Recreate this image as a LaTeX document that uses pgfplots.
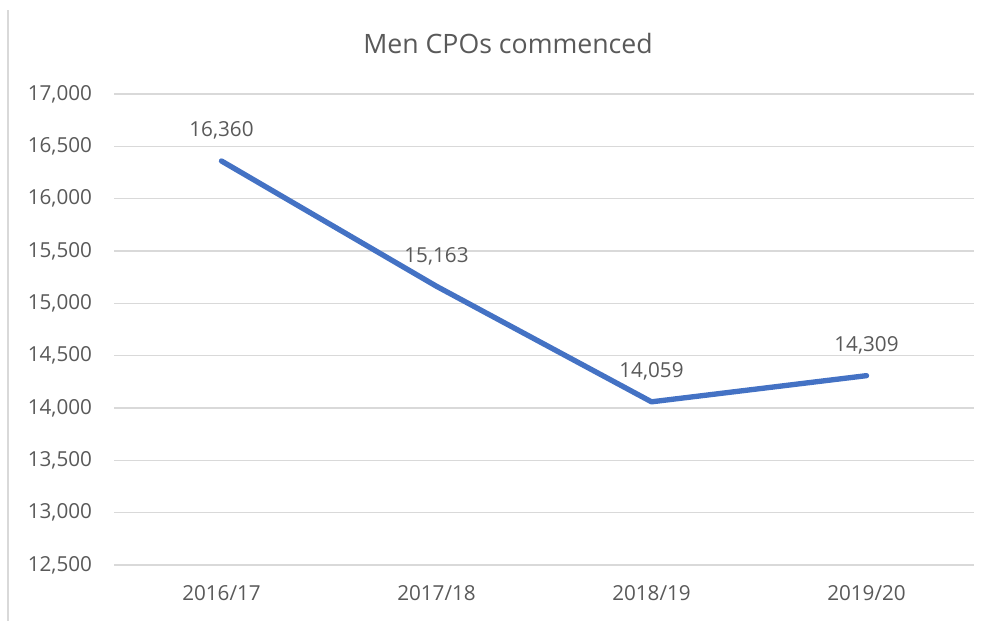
\documentclass[border=0pt]{standalone}
\usepackage{pgfplots}
\pgfplotsset{compat=1.18}
\usepackage{fontspec}
\setmainfont{Open Sans}
\definecolor{txtgray}{HTML}{595959}
\definecolor{gridgray}{HTML}{D9D9D9}
\definecolor{lineblue}{HTML}{4472C4}

\begin{document}
\begin{tikzpicture}[x=0.75pt,y=0.75pt]
  % canvas in pixel units (989 x 621), y up
  \useasboundingbox (0,0) rectangle (989,621);
  \draw[gridgray, line width=1.5] (8,0) -- (8,611);
  \node[txtgray, font=\fontsize{20}{24}\selectfont] at (508,577) {Men CPOs commenced};
  \begin{axis}[
      at={(85.5pt,42pt)}, anchor=south west,
      scale only axis,
      width=645pt, height=353.25pt,
      xmin=-0.5, xmax=3.5,
      ymin=12500, ymax=17000,
      xtick={0,1,2,3},
      xticklabels={2016/17,2017/18,2018/19,2019/20},
      ytick={12500,13000,...,17000},
      scaled y ticks=false,
      ymajorgrids,
      grid style={gridgray, line width=1pt},
      axis line style={draw=none},
      major tick length=0pt,
      ticklabel style={txtgray, font=\fontsize{15.5}{18}\selectfont},
      /pgf/number format/assume math mode=true,
      /pgf/number format/1000 sep={,},
      yticklabel style={anchor=east, xshift=-13pt},
      xticklabel style={anchor=north, yshift=-12pt},
      nodes near coords,
      point meta=explicit symbolic,
      every node near coord/.append style={txtgray, font=\fontsize{15.5}{18}\selectfont, anchor=south, inner sep=0pt, yshift=14pt},
    ]
    \addplot[lineblue, line width=4pt, line cap=round, line join=round, mark=none]
      table[meta=label] {
        x y label
        0 16360 16,360
        1 15163 15,163
        2 14059 14,059
        3 14309 14,309
      };
  \end{axis}
\end{tikzpicture}
\end{document}
